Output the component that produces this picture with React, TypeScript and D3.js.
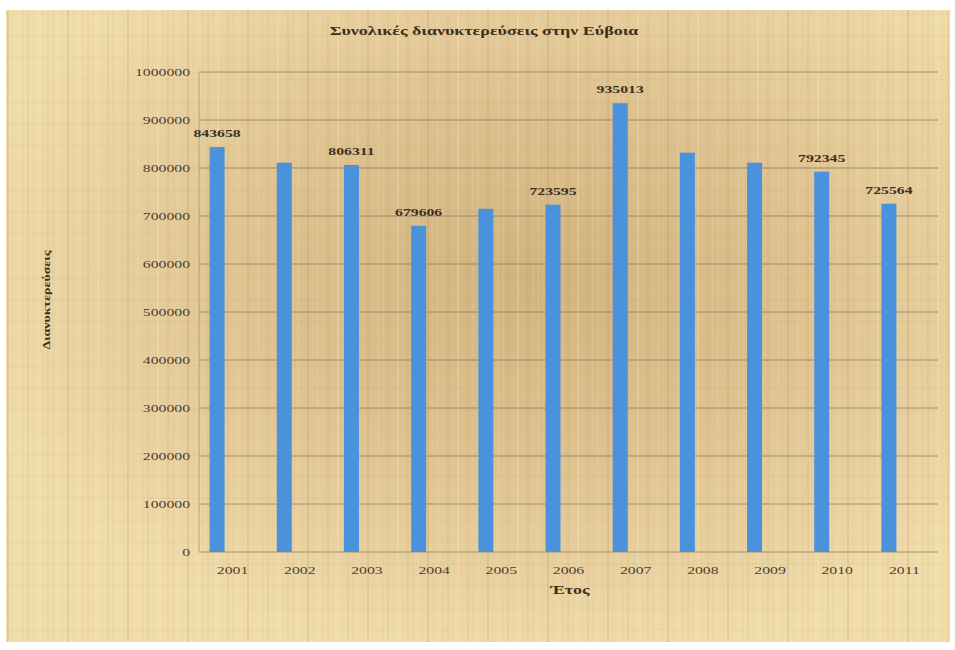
import React from "react";
import * as d3 from "d3";

const years = ["2001","2002","2003","2004","2005","2006","2007","2008","2009","2010","2011"];
const stays = [843658, 811000, 806311, 679606, 715000, 723595, 935013, 832000, 811000, 792345, 725564];
const shownLabels = [true, false, true, true, false, true, true, false, false, true, true];
const yTicks = [0,100000,200000,300000,400000,500000,600000,700000,800000,900000,1000000];
const title = "Συνολικές διανυκτερεύσεις στην Εύβοια";
const yTitle = "Διανυκτερεύσεις";
const xTitle = "Έτος";

const font = "'Liberation Serif', 'DejaVu Serif', serif";
const SX = 1.5;

function T(props: { x: number; y: number; anchor?: string; size: number; bold?: boolean; fill?: string; rot?: number; sx?: number; children: any }) {
  const { x, y, anchor = "middle", size, bold, fill = "#3a3020", rot = 0, sx = SX, children } = props;
  return (
    <g transform={`translate(${x},${y}) rotate(${rot}) scale(${sx},1)`}>
      <text x={0} y={0} textAnchor={anchor} fontFamily={font} fontSize={size} fontWeight={bold ? "bold" : "normal"} fill={fill}>{children}</text>
    </g>
  );
}

export default function App() {
  const W = 955, H = 650;
  const left = 199, right = 938, top = 72, bottom = 552;
  const x = d3.scaleBand<string>().domain(years).range([left, right]);
  const y = d3.scaleLinear().domain([0, 1000000]).range([bottom, top]);
  const barW = 15;
  const barOff = -15.5;

  const vLines = d3.range(8, 950, 5);
  const hLines = d3.range(14, 640, 11);

  return (
    <svg width={W} height={H} style={{ position: "absolute", left: 0, top: 0, background: "#fff" }}>
      <defs>
        <radialGradient id="bgGrad" cx="0.56" cy="0.42" r="0.62">
          <stop offset="0" stopColor="#d0b27d" />
          <stop offset="0.45" stopColor="#ddc18e" />
          <stop offset="1" stopColor="#f1ddac" />
        </radialGradient>
      </defs>
      <rect x={6} y={10} width={944} height={632} fill="url(#bgGrad)" />
      {vLines.map((v, i) => (
        <line key={"v" + i} x1={v} x2={v} y1={10} y2={642}
          stroke={i % 4 === 0 ? "#b08c55" : i % 4 === 2 ? "#f7e7c2" : "#e8c79a"}
          strokeOpacity={i % 4 === 0 ? 0.2 : 0.3} strokeWidth={i % 3 === 0 ? 2 : 1} />
      ))}
      {hLines.map((h, i) => (
        <line key={"h" + i} x1={6} x2={950} y1={h} y2={h}
          stroke={i % 2 === 0 ? "#b08c55" : "#f6e6c0"} strokeOpacity={0.1} strokeWidth={1} />
      ))}
      {yTicks.map((t) => (
        <g key={t}>
          <line x1={left} x2={right} y1={y(t)} y2={y(t)} stroke="#8a7550" strokeOpacity={0.7} strokeWidth={1} />
          <T x={190} y={y(t) + 4} anchor="end" size={10.5} fill="#4a3f2e">{t}</T>
        </g>
      ))}
      <line x1={left} x2={left} y1={top} y2={bottom} stroke="#8a7550" strokeOpacity={0.5} />
      {years.map((yr, i) => {
        const cx = (x(yr) as number) + x.bandwidth() / 2 + barOff;
        return (
          <g key={yr}>
            <rect x={cx - barW / 2} y={y(stays[i])} width={barW} height={bottom - y(stays[i])} fill="#4a92dc" />
            {shownLabels[i] && (
              <T x={cx} y={y(stays[i]) - 10} size={10.5} bold>{stays[i]}</T>
            )}
            <T x={(x(yr) as number) + x.bandwidth() / 2} y={574} size={10.5} fill="#4a3f2e">{yr}</T>
          </g>
        );
      })}
      <T x={484} y={35} size={12} bold>{title}</T>
      <T x={570} y={594} size={12} bold>{xTitle}</T>
      <T x={50} y={300} size={10} sx={1.4} bold rot={-90}>{yTitle}</T>
    </svg>
  );
}
